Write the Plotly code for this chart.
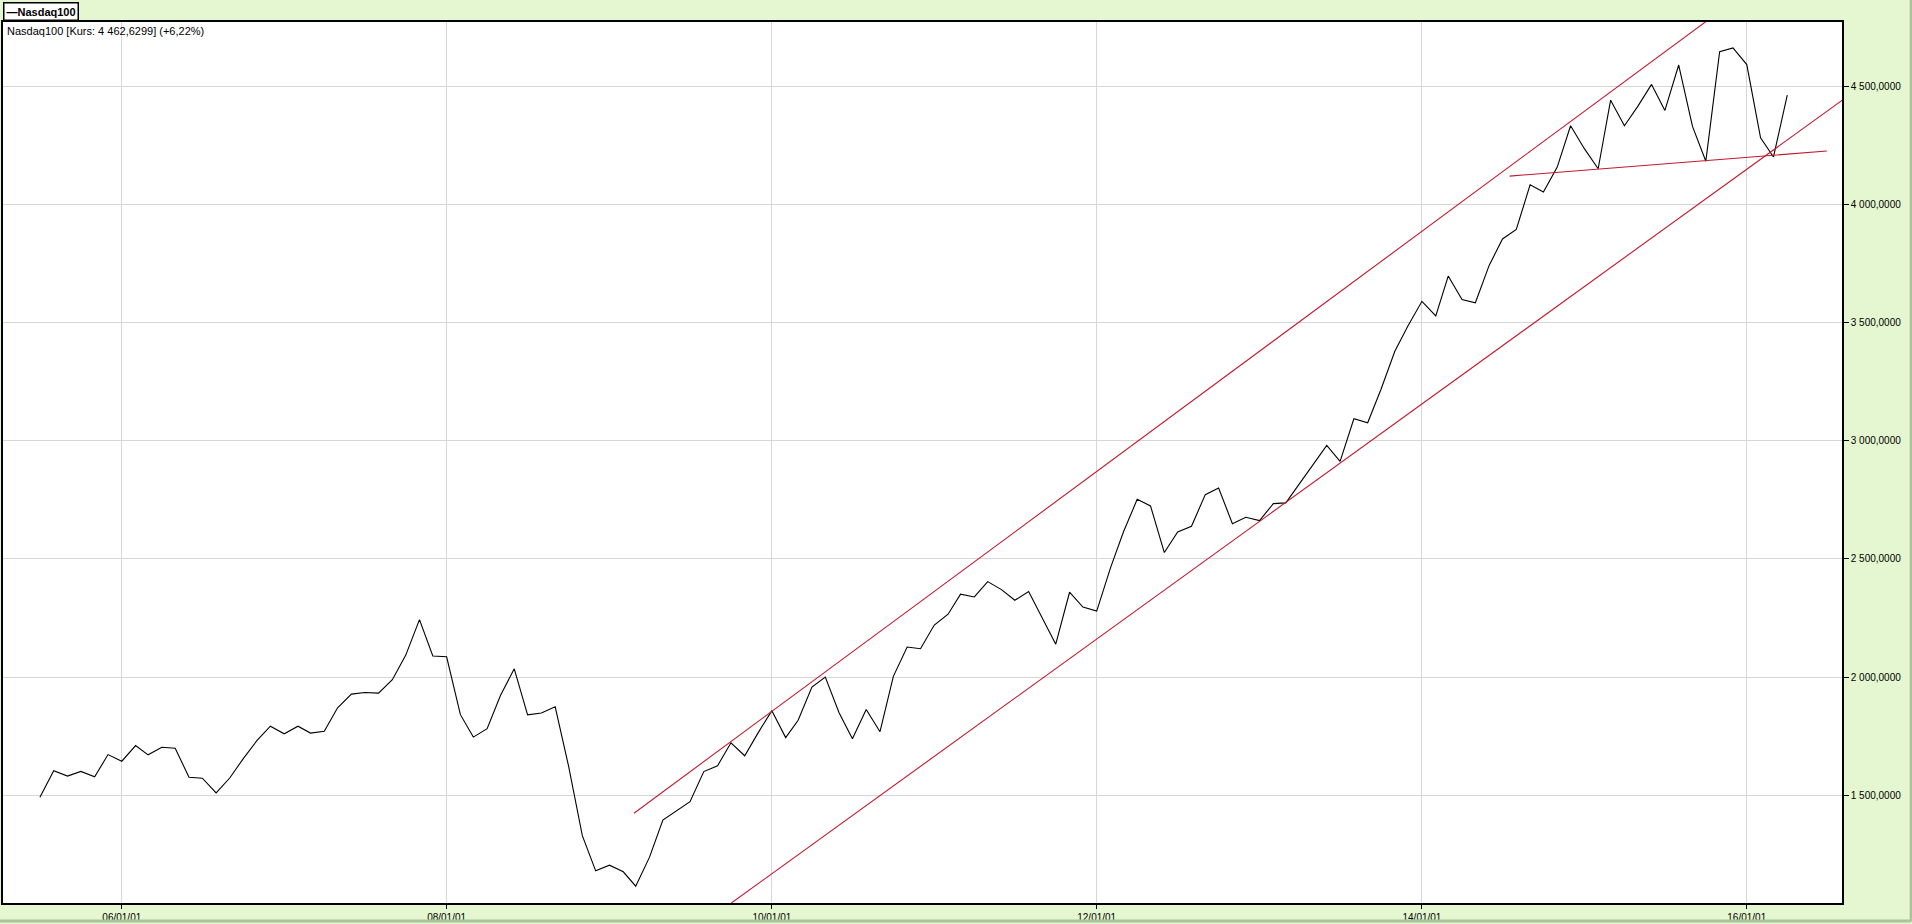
import pandas as pd
import plotly.graph_objects as go

# Monthly values (plotted at the first day of each month), Jul 2005 .. Apr 2016
v2005 = [1492, 1604, 1581, 1601, 1578, 1672]
v2006 = [1644, 1710, 1671, 1703, 1699, 1576, 1572, 1510, 1574, 1655, 1732, 1792]
v2007 = [1760, 1792, 1763, 1771, 1870, 1928, 1935, 1932, 1989, 2092, 2243, 2089]
v2008 = [2086, 1841, 1746, 1782, 1922, 2035, 1840, 1848, 1874, 1624, 1329, 1180]
v2009 = [1204, 1176, 1115, 1238, 1395, 1433, 1473, 1600, 1625, 1722, 1667, 1764]
v2010 = [1858, 1744, 1817, 1958, 2000, 1849, 1739, 1863, 1769, 2003, 2127, 2120]
v2011 = [2220, 2266, 2351, 2339, 2404, 2370, 2325, 2362, 2250, 2139, 2359, 2296]
v2012 = [2279, 2462, 2614, 2752, 2724, 2527, 2614, 2638, 2772, 2800, 2649, 2676]
v2013 = [2662, 2734, 2737, 2819, 2896, 2980, 2913, 3093, 3076, 3218, 3379, 3488]
v2014 = [3590, 3528, 3697, 3598, 3584, 3742, 3854, 3894, 4083, 4053, 4158, 4333]
v2015 = [4236, 4151, 4441, 4333, 4415, 4508, 4398, 4590, 4330, 4183, 4646, 4662]
v2016 = [4592, 4282, 4201, 4462.63]

values = v2005 + v2006 + v2007 + v2008 + v2009 + v2010 + v2011 + v2012 + v2013 + v2014 + v2015 + v2016
dates = pd.date_range("2005-07-01", periods=len(values), freq="MS")

# Trend lines (endpoints in data coordinates)
upper_x = ["2009-02-25", "2015-10-20"]
upper_y = [1424, 4800]
lower_x = ["2009-10-02", "2016-08-04"]
lower_y = [1044, 4443]
support_x = ["2014-07-17", "2016-06-29"]
support_y = [4120, 4226]

y_ticks = [1500, 2000, 2500, 3000, 3500, 4000, 4500]
y_ticktext = ["1 500,0000", "2 000,0000", "2 500,0000", "3 000,0000", "3 500,0000", "4 000,0000", "4 500,0000"]
x_ticks = ["2006-01-01", "2008-01-01", "2010-01-01", "2012-01-01", "2014-01-01", "2016-01-01"]
x_ticktext = ["06/01/01", "08/01/01", "10/01/01", "12/01/01", "14/01/01", "16/01/01"]

RED = "#C0192C"
BG = "#E4F7D0"

fig = go.Figure()
fig.add_trace(go.Scatter(x=dates, y=values, mode="lines",
                         line=dict(color="black", width=1.1), name="Nasdaq100"))
for xs, ys in [(upper_x, upper_y), (lower_x, lower_y), (support_x, support_y)]:
    fig.add_trace(go.Scatter(x=xs, y=ys, mode="lines",
                             line=dict(color=RED, width=1.1), showlegend=False))

fig.update_layout(
    width=1912, height=924,
    margin=dict(l=1, r=70, t=22, b=19),
    paper_bgcolor=BG, plot_bgcolor="white",
    showlegend=False,
    font=dict(family="Liberation Sans, Arial, sans-serif", size=11, color="black"),
    xaxis=dict(
        range=["2005-04-09", "2016-08-02"],
        tickvals=x_ticks, ticktext=x_ticktext,
        tickfont=dict(family="Liberation Sans Narrow, Arial Narrow, Liberation Sans, sans-serif", size=10),
        ticks="outside", ticklen=4, tickcolor="black",
        showgrid=True, gridcolor="#D6D6D6", gridwidth=1,
        showline=True, linecolor="black", linewidth=1.5, mirror=True,
        zeroline=False,
    ),
    yaxis=dict(
        range=[1044, 4772], side="right",
        tickvals=y_ticks, ticktext=y_ticktext,
        tickfont=dict(family="Liberation Sans, Arial, sans-serif", size=10),
        ticks="outside", ticklen=5, tickcolor="black",
        showgrid=True, gridcolor="#D6D6D6", gridwidth=1,
        showline=True, linecolor="black", linewidth=1.5, mirror=True,
        zeroline=False,
    ),
    annotations=[
        dict(xref="paper", yref="paper", x=0, y=1, xanchor="left", yanchor="bottom",
             yshift=1, text="<b>—Nasdaq100</b>", showarrow=False,
             font=dict(size=11, family="Liberation Sans, Arial, sans-serif"),
             bgcolor="white", bordercolor="black", borderwidth=1.5, borderpad=2),
        dict(xref="paper", yref="paper", x=0, y=1, xanchor="left", yanchor="top",
             xshift=2, yshift=-1, text="Nasdaq100 [Kurs: 4 462,6299] (+6,22%)", showarrow=False,
             font=dict(size=11, family="Liberation Sans, Arial, sans-serif")),
    ],
    shapes=[
        dict(type="line", xref="paper", yref="paper", x0=1.0376, x1=1.0376, y0=-0.021, y1=1.03,
             line=dict(color="#A8C49A", width=3)),
        dict(type="line", xref="paper", yref="paper", x0=-0.01, x1=1.0376, y0=-0.0205, y1=-0.0205,
             line=dict(color="#A8C49A", width=3)),
    ],
)

fig.write_html("out.html", config={"displayModeBar": False},
               post_script="document.body.style.margin='0';document.body.style.overflow='hidden';")
